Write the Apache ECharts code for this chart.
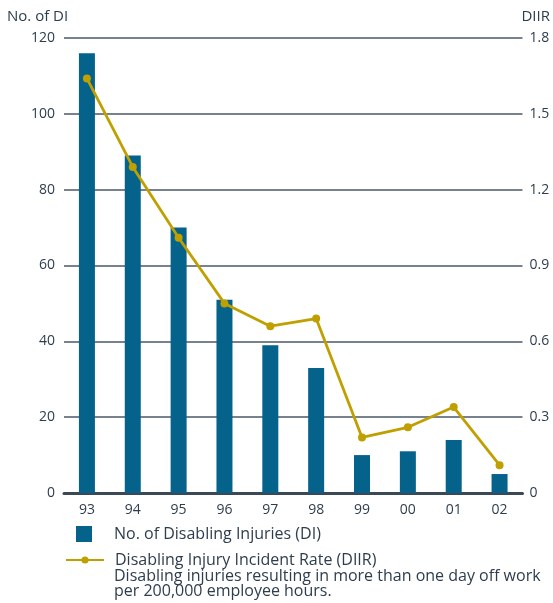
<!DOCTYPE html>
<html>
<head>
<meta charset="utf-8">
<script src="https://cdn.jsdelivr.net/npm/echarts@6/dist/echarts.min.js"></script>
<style>html,body{margin:0;padding:0;background:#fff}#c{width:553px;height:603px}</style>
</head>
<body>
<div id="c"></div>
<script>
const categories = ['93','94','95','96','97','98','99','00','01','02'];
const diValues = [116, 89, 70, 51, 39, 33, 10, 11, 14, 5];
const diirValues = [1.64, 1.29, 1.01, 0.75, 0.66, 0.69, 0.22, 0.26, 0.34, 0.11];
const leftTicks = [0, 20, 40, 60, 80, 100, 120];
const rightTicks = [0, 0.3, 0.6, 0.9, 1.2, 1.5, 1.8];

const FONT = '"Open Sans", "Noto Sans", sans-serif';
const TXT = '#2e3d4d';
const BAR = '#05628a';
const LINE = '#bfa000';

const chart = echarts.init(document.getElementById('c'), null, {renderer: 'canvas'});
chart.setOption({
  animation: false,
  textStyle: {fontFamily: FONT, color: TXT},
  grid: {left: 64, right: 30, top: 38, bottom: 110, containLabel: false},
  xAxis: {
    type: 'category',
    data: categories,
    axisLine: {lineStyle: {color: '#3a4858', width: 3}},
    axisTick: {show: false},
    axisLabel: {fontFamily: FONT, fontSize: 14, color: TXT, margin: 10}
  },
  yAxis: [
    {
      type: 'value', min: 0, max: 120, interval: 20,
      name: 'No. of DI', nameLocation: 'end', nameGap: 14,
      nameTextStyle: {fontFamily: FONT, fontSize: 15, color: TXT, align: 'left', padding: [0, 0, 0, -57]},
      axisLine: {show: false}, axisTick: {show: false},
      axisLabel: {fontFamily: FONT, fontSize: 14, color: TXT, margin: 9,
        formatter: v => leftTicks.includes(v) ? String(v) : ''},
      splitLine: {show: true, lineStyle: {color: '#4a5868', width: 1.5}}
    },
    {
      type: 'value', min: 0, max: 1.8, interval: 0.3,
      name: 'DIIR', nameLocation: 'end', nameGap: 14,
      nameTextStyle: {fontFamily: FONT, fontSize: 15, color: TXT, align: 'left', padding: [0, 0, 0, -1]},
      axisLine: {show: false}, axisTick: {show: false},
      axisLabel: {fontFamily: FONT, fontSize: 14, color: TXT, margin: 7,
        formatter: v => { const m = rightTicks.find(t => Math.abs(t - v) < 1e-6); return m === undefined ? '' : (m === 0 ? '0' : m.toFixed(1)); }},
      splitLine: {show: false}
    }
  ],
  legend: [
    {
      data: [{name: 'No. of Disabling Injuries (DI)', icon: 'rect'}],
      left: 76, top: 526, itemWidth: 16, itemHeight: 16, padding: 0,
      textStyle: {fontFamily: FONT, fontSize: 16, color: TXT, padding: [0, 0, 0, 17]}
    },
    {
      data: ['Disabling Injury Incident Rate (DIIR)'],
      left: 65, top: 552, itemWidth: 38, itemHeight: 9, padding: 0,
      textStyle: {fontFamily: FONT, fontSize: 16, color: TXT, padding: [0, 0, 0, 6]}
    }
  ],
  graphic: [
    {
      type: 'text', left: 114, top: 568,
      style: {text: 'Disabling injuries resulting in more than one day off work\nper 200,000 employee hours.',
        font: '16px ' + FONT, fill: TXT, lineHeight: 15}
    }
  ],
  series: [
    {
      name: 'No. of Disabling Injuries (DI)', type: 'bar', yAxisIndex: 0,
      data: diValues, barWidth: 16,
      itemStyle: {color: BAR}
    },
    {
      name: 'Disabling Injury Incident Rate (DIIR)', type: 'line', yAxisIndex: 1,
      data: diirValues, symbol: 'circle', symbolSize: 8,
      lineStyle: {color: LINE, width: 2.8}, itemStyle: {color: LINE}
    }
  ]
});
</script>
</body>
</html>
